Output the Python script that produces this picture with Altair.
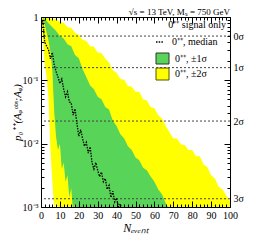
import altair as alt
import pandas as pd

# ---------------- data (log10 of p-values) ----------------
N_STEP2 = [0, 2, 4, 6, 8, 10, 12, 14, 16, 18, 20, 22, 24, 26, 28, 30, 32, 34, 36, 38, 40,
           42, 44, 46, 48, 50, 52, 54, 56, 58, 60, 62, 64, 66, 68, 70, 72, 74, 76, 78, 80,
           82, 84, 86, 88, 90, 92, 94, 96, 98, 100]
# +2 sigma (upper yellow edge)
yellow_hi_log = [0, 0, -0.01, -0.04, -0.03, -0.08, -0.09, -0.16, -0.17, -0.25, -0.28, -0.36,
                 -0.38, -0.46, -0.47, -0.56, -0.57, -0.66, -0.72, -0.84, -0.88, -0.98,
                 -0.99, -1.09, -1.10, -1.18, -1.18, -1.30, -1.32, -1.42, -1.44, -1.55,
                 -1.60, -1.72, -1.82, -1.92, -1.92, -2.01, -2.02, -2.10, -2.10, -2.20,
                 -2.20, -2.33, -2.37, -2.50, -2.55, -2.68, -2.72, -2.82, -2.90]
# +1 sigma (upper green edge)
N_green_hi = N_STEP2[:36]
green_hi_log = [0, -0.03, -0.10, -0.16, -0.22, -0.30, -0.34, -0.43, -0.46, -0.60, -0.65,
                -0.82, -0.95, -1.08, -1.14, -1.26, -1.30, -1.42, -1.46, -1.64, -1.72,
                -1.85, -1.92, -2.04, -2.10, -2.22, -2.26, -2.38, -2.42, -2.52, -2.60,
                -2.72, -2.80, -2.94, -3.05, -3.20]
# -1 sigma (lower green edge)
N_green_lo = [0, 1, 2, 3, 4, 5, 6, 7, 8, 9, 10, 11, 12, 13, 14, 15, 16, 17, 18, 19, 20]
green_lo_log = [0, -0.02, -0.12, -0.25, -0.38, -0.55, -0.85, -1.50, -1.90, -2.10, -2.00,
                -2.40, -2.30, -2.60, -2.50, -2.85, -2.70, -3.10, -2.95, -3.30, -3.50]
# -2 sigma (lower yellow edge)
N_yellow_lo = [0, 1, 2, 3, 4, 5, 6, 7, 8, 9, 10]
yellow_lo_log = [0, -0.35, -0.75, -0.95, -1.30, -2.10, -2.60, -3.05, -2.90, -3.30, -3.50]
# median
N_median = list(range(0, 44))
median_log = [-0.03, -0.08, -0.40, -0.46, -0.52, -0.66, -0.56, -0.76, -0.86, -0.95, -1.05,
              -0.98, -1.14, -1.26, -1.18, -1.34, -1.36, -1.55, -1.45, -1.68, -1.88, -1.78,
              -1.92, -2.04, -1.98, -2.15, -2.05, -2.30, -2.40, -2.30, -2.42, -2.52, -2.45,
              -2.60, -2.55, -2.72, -2.66, -2.85, -2.75, -2.92, -2.86, -3.00, -2.95, -3.10]

sigma_p = [0.5, 0.1587, 0.02275, 0.00135]
sigma_labels = ["0σ", "1σ", "2σ", "3σ"]

y_major = [1, 0.1, 0.01, 0.001]
y_major_labels = ["1", "10⁻¹", "10⁻²", "10⁻³"]
y_all_ticks = [0.001, 0.002, 0.003, 0.004, 0.005, 0.006, 0.007, 0.008, 0.009,
               0.01, 0.02, 0.03, 0.04, 0.05, 0.06, 0.07, 0.08, 0.09,
               0.1, 0.2, 0.3, 0.4, 0.5, 0.6, 0.7, 0.8, 0.9, 1]
x_major = [0, 10, 20, 30, 40, 50, 60, 70, 80, 90, 100]
x_all_ticks = N_STEP2

TITLE = "√s = 13 TeV, Mₛ = 750 GeV"

FLOOR = 1e-4
W, H = 189, 190
FONT = "Liberation Serif"
YELLOW = "#ffff00"
GREEN = "#58d458"


def table(n, logs):
    return pd.DataFrame({"N": n, "p": [10 ** v for v in logs]})


xs = alt.Scale(domain=[0, 100], nice=False, zero=False)
ys = alt.Scale(type="log", domain=[0.001, 1], nice=False)

ylab_expr = " : ".join(
    f"datum.value == {v} ? '{l}'" for v, l in zip(y_major[:-1], y_major_labels[:-1])
) + f" : '{y_major_labels[-1]}'"
sig_expr = " : ".join(
    f"datum.value == {v} ? '{l}'" for v, l in zip(sigma_p[:-1], sigma_labels[:-1])
) + f" : '{sigma_labels[-1]}'"

ymaj_test = " || ".join(f"datum.value == {v}" for v in y_major)
ytick_size = {"condition": {"test": ymaj_test, "value": 6}, "value": 3}
xtick_size = {"condition": {"test": "datum.value % 10 == 0", "value": 6}, "value": 3}

axis_common = dict(labelFont=FONT, titleFont=FONT, labelColor="black", titleColor="black",
                   domainColor="black", tickColor="black", grid=False)

# main label axes (left / bottom)
x_lab = alt.Axis(orient="bottom", values=x_major, ticks=False, domain=True, zindex=1,
                 labelFontSize=10, labelPadding=3, title="Nₑᵥₑₙₜ", titleFontSize=12,
                 titleFontWeight="normal", titleFontStyle="italic", titlePadding=2,
                 labelFlush=False, **axis_common)
y_lab = alt.Axis(orient="left", values=y_major, labelExpr=ylab_expr, ticks=False,
                 domain=True, zindex=1, labelFontSize=10, labelPadding=3,
                 title="p₀⁺⁺(Aᵩᵒᵇˢ;Aᵩ)", titleFontSize=11, titleFontWeight="normal",
                 titleFontStyle="italic", titlePadding=0, **axis_common)
# inward ticks at left / bottom edges
y_in_left = alt.Axis(orient="right", offset=-W, values=y_all_ticks, labels=False,
                     domain=False, title=None, tickSize=ytick_size, zindex=1, **axis_common)
x_in_bottom = alt.Axis(orient="top", offset=-H, values=x_all_ticks, labels=False,
                       domain=False, title=None, tickSize=xtick_size, zindex=1, **axis_common)
# inward ticks + frame at right / top edges
y_in_right = alt.Axis(orient="left", offset=-W, values=y_all_ticks, labels=False,
                      domain=True, title=None, tickSize=ytick_size, zindex=1, **axis_common)
x_in_top = alt.Axis(orient="bottom", offset=-H, values=x_all_ticks, labels=False,
                    domain=True, title=None, tickSize=xtick_size, zindex=1, **axis_common)
# sigma labels on the right
y_sig = alt.Axis(orient="right", values=sigma_p, labelExpr=sig_expr, ticks=False,
                 domain=False, title=None, labelFontSize=10, labelPadding=3, zindex=1,
                 **axis_common)

yellow_hi = alt.Chart(table(N_STEP2, yellow_hi_log)).mark_area(
    color=YELLOW, clip=True, opacity=1).encode(
    x=alt.X("N:Q", scale=xs, axis=x_lab),
    y=alt.Y("p:Q", scale=ys, axis=y_lab),
    y2=alt.datum(FLOOR))

green_hi = alt.Chart(table(N_green_hi, green_hi_log)).mark_area(
    color=GREEN, clip=True, opacity=1).encode(
    x=alt.X("N:Q", scale=xs, axis=x_in_bottom),
    y=alt.Y("p:Q", scale=ys, axis=y_in_left),
    y2=alt.datum(FLOOR))

yellow_lo = alt.Chart(table(N_green_lo, green_lo_log)).mark_area(
    color=YELLOW, clip=True, opacity=1).encode(
    x=alt.X("N:Q", scale=xs, axis=x_in_top),
    y=alt.Y("p:Q", scale=ys, axis=y_in_right),
    y2=alt.datum(FLOOR))

white_lo = alt.Chart(table(N_yellow_lo, yellow_lo_log)).mark_area(
    color="white", clip=True, opacity=1).encode(
    x=alt.X("N:Q", scale=xs, axis=None),
    y=alt.Y("p:Q", scale=ys, axis=None),
    y2=alt.datum(FLOOR))

sig_rules = alt.Chart(pd.DataFrame({"p": sigma_p})).mark_rule(
    color="#444444", strokeDash=[2, 2], strokeWidth=1).encode(
    y=alt.Y("p:Q", scale=ys, axis=y_sig))

median = alt.Chart(table(N_median, median_log)).mark_line(
    color="black", strokeDash=[1.5, 1.2], strokeWidth=1.3, clip=True).encode(
    x=alt.X("N:Q", scale=xs, axis=None),
    y=alt.Y("p:Q", scale=ys, axis=None))

# ---------------- title and legend ----------------
dummy = pd.DataFrame({"a": [0]})
title = alt.Chart(dummy).mark_text(align="right", baseline="alphabetic", font=FONT,
                                   fontSize=9, color="black").encode(
    x=alt.value(W), y=alt.value(-2), text=alt.value(TITLE))

lg_text = dict(font=FONT, fontSize=10, color="black", baseline="middle")
leg1 = alt.Chart(dummy).mark_text(align="right", **lg_text).encode(
    x=alt.value(185), y=alt.value(8), text=alt.value("0⁺⁺ signal only"))
leg2_sym = alt.Chart(dummy).mark_rule(color="black", strokeDash=[1.5, 1.2], strokeWidth=1.3).encode(
    x=alt.value(115), x2=alt.value(123), y=alt.value(25))
leg2 = alt.Chart(dummy).mark_text(align="left", **lg_text).encode(
    x=alt.value(131), y=alt.value(25), text=alt.value("0⁺⁺, median"))
leg3_sym = alt.Chart(dummy).mark_rect(color=GREEN, stroke="#333333", strokeWidth=1).encode(
    x=alt.value(115), x2=alt.value(128), y=alt.value(36), y2=alt.value(47))
leg3 = alt.Chart(dummy).mark_text(align="left", **lg_text).encode(
    x=alt.value(134), y=alt.value(42), text=alt.value("0⁺⁺, ±1σ"))
leg4_sym = alt.Chart(dummy).mark_rect(color=YELLOW, stroke="#555500", strokeWidth=1).encode(
    x=alt.value(115), x2=alt.value(128), y=alt.value(51), y2=alt.value(63))
leg4 = alt.Chart(dummy).mark_text(align="left", **lg_text).encode(
    x=alt.value(134), y=alt.value(57), text=alt.value("0⁺⁺, ±2σ"))

chart = alt.layer(
    yellow_hi, green_hi, yellow_lo, white_lo, sig_rules, median,
    title, leg1, leg2_sym, leg2, leg3_sym, leg3, leg4_sym, leg4,
).resolve_axis(x="independent", y="independent").properties(
    width=W, height=H,
    autosize=alt.AutoSizeParams(type="none"),
    padding={"left": 33, "top": 9, "right": 18, "bottom": 29},
).configure_view(stroke=None)

chart.save("out.html", embed_options={"renderer": "svg", "actions": False})
